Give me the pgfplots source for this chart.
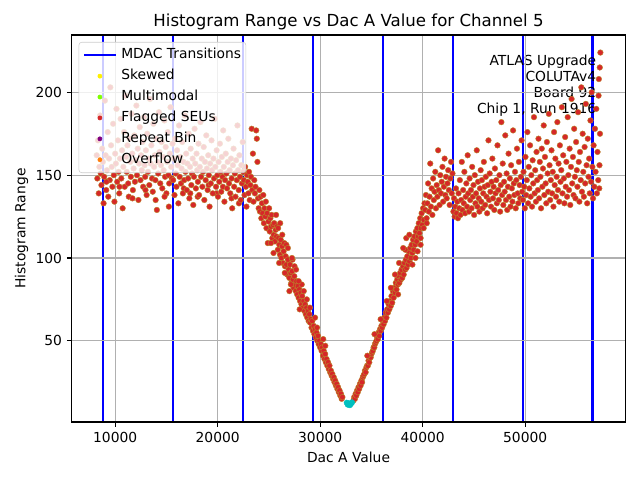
\documentclass[border=0pt]{standalone}
\usepackage{pgfplots}
\pgfplotsset{compat=1.18}
\usepackage{fontspec}
\setmainfont{DejaVu Sans}
\definecolor{tabred}{RGB}{214,39,40}
\definecolor{edgec}{RGB}{185,135,40}
\definecolor{tealc}{RGB}{0,191,191}
\definecolor{gridc}{RGB}{176,176,176}
\definecolor{legedge}{RGB}{204,204,204}
\definecolor{skewc}{RGB}{255,240,0}
\definecolor{multic}{RGB}{127,255,0}
\definecolor{repc}{RGB}{128,0,128}
\definecolor{ovc}{RGB}{255,127,14}
\begin{document}
\begin{tikzpicture}
\path[use as bounding box] (-0.717in,-0.58in) rectangle (5.683in,4.22in);
\begin{axis}[
  at={(0,0)}, anchor=south west,
  scale only axis, width=5.536in, height=3.87in,
  xmin=5760, xmax=59770, ymin=1, ymax=234.6,
  xtick={10000,20000,30000,40000,50000},
  ytick={50,100,150,200},
  scaled x ticks=false, scaled y ticks=false,
  /pgf/number format/assume math mode=true,
  /pgf/number format/set thousands separator={},
  tick label style={font=\fontsize{10}{12}\selectfont},
  tick align=outside, tick pos=left,
  major tick length=3.5pt,
  every tick/.style={black, line width=0.8pt},
  axis line style={line width=0.8pt},
  grid=major, major grid style={gridc, line width=0.8pt},
  axis on top,
  title={Histogram Range vs Dac A Value for Channel 5},
  title style={font=\fontsize{12}{14}\selectfont, yshift=-6pt},
  xlabel={Dac A Value}, ylabel={Histogram Range},
  label style={font=\fontsize{10}{12}\selectfont},
  ylabel style={xshift=0pt, yshift=-1.5pt},
  legend cell align=left,
  legend style={at={(0.0126,0.982)}, anchor=north west, fill=white, fill opacity=0.8, draw opacity=1, text opacity=1, draw=legedge, rounded corners=2pt, font=\fontsize{10}{12}\selectfont, inner xsep=3pt, inner ysep=4pt, row sep=4.3pt, nodes={inner sep=0.5pt, text height=7.6pt, text depth=2.2pt}},
  legend image code/.code={\draw[#1] (0cm,0cm) -- (0.8cm,0cm); \path (0.9cm,0cm);},
]
\addlegendimage{blue, line width=1.5pt}
\addlegendentry{MDAC Transitions}
\addlegendimage{legend image code/.code={\fill[skewc, fill opacity=1] (0.4cm,0cm) circle (1.5pt); \path (0cm,0cm) (0.9cm,0cm);}}
\addlegendentry{Skewed}
\addlegendimage{legend image code/.code={\fill[multic, fill opacity=1] (0.4cm,0cm) circle (1.5pt); \path (0cm,0cm) (0.9cm,0cm);}}
\addlegendentry{Multimodal}
\addlegendimage{legend image code/.code={\fill[tabred, fill opacity=1] (0.4cm,0cm) circle (1.5pt); \path (0cm,0cm) (0.9cm,0cm);}}
\addlegendentry{Flagged SEUs}
\addlegendimage{legend image code/.code={\fill[repc, fill opacity=1] (0.4cm,0cm) circle (1.5pt); \path (0cm,0cm) (0.9cm,0cm);}}
\addlegendentry{Repeat Bin}
\addlegendimage{legend image code/.code={\fill[ovc, fill opacity=1] (0.4cm,0cm) circle (1.5pt); \path (0cm,0cm) (0.9cm,0cm);}}
\addlegendentry{Overflow}

\addplot[forget plot, only marks, mark=*, mark size=2.05pt, mark options={fill=tabred, draw=edgec, line width=0.3pt}] coordinates {
(8200,162)(8260,148)(8330,171)(8400,139)(8460,155)(8530,186)(8600,151)(8660,144)(8730,166)(8800,158)(8870,133)(8930,149)(9000,195)(9070,162)(9130,141)(9200,153)(9270,176)(9330,137)(9400,160)(9470,147)(9530,203)(9600,168)(9670,155)(9730,143)(9800,181)(9870,150)(9930,134)(10000,163)(10070,157)(10130,190)(10200,146)(10270,171)(10330,152)(10400,139)(10470,160)(10530,184)(10600,148)(10670,165)(10730,130)(10800,155)(10870,176)(10930,143)(11000,198)(11070,161)(11130,152)(11200,168)(11270,145)(11330,137)(11400,172)(11470,158)(11530,149)(11600,187)(11670,163)(11730,141)(11800,154)(11870,174)(11930,146)(12000,159)(12070,192)(12130,150)(12200,166)(12270,135)(12330,157)(12400,179)(12470,147)(12530,162)(12600,153)(12670,170)(12730,143)(12800,185)(12870,156)(12930,149)(13000,165)(13070,138)(13130,175)(13200,152)(13270,160)(13330,144)(13400,196)(13470,157)(13530,168)(13600,148)(13670,140)(13730,181)(13800,155)(13870,162)(13930,147)(14000,172)(14070,129)(14130,158)(14200,151)(14270,188)(14330,164)(14400,145)(14470,156)(14530,170)(14600,142)(14670,161)(14730,153)(14800,183)(14870,149)(14930,167)(15000,139)(15070,158)(15130,176)(15200,150)(15270,145)(15330,163)(15400,191)(15470,155)(15530,148)(15600,169)
(9150,146)(10420,143)(11690,136)(12960,141)(13950,135)(14820,137)(15240,131)(16700,142)(17330,139)(18050,137)(19120,144)(19860,139)(20510,143)(21350,136)(22080,133)
(15660,147)(15720,160)(15790,138)(15850,172)(15910,151)(15980,143)(16040,165)(16100,156)(16170,133)(16230,180)(16290,149)(16360,161)(16420,145)(16480,154)(16550,170)(16610,139)(16670,158)(16740,147)(16800,186)(16860,152)(16930,163)(16990,141)(17050,157)(17120,148)(17180,175)(17240,136)(17310,155)(17370,166)(17430,144)(17500,151)(17560,160)(17620,132)(17690,149)(17750,178)(17810,157)(17880,142)(17940,163)(18000,153)(18070,146)(18130,169)(18190,138)(18260,155)(18320,182)(18380,149)(18450,160)(18510,143)(18570,152)(18640,167)(18700,135)(18760,158)(18830,147)(18890,174)(18950,154)(19020,141)(19080,162)(19140,150)(19210,131)(19270,157)(19330,145)(19400,171)(19460,153)(19520,139)(19590,160)(19650,148)(19710,184)(19780,155)(19840,143)(19900,165)(19970,150)(20030,137)(20090,158)(20160,146)(20220,169)(20280,152)(20350,140)(20410,161)(20470,149)(20540,177)(20600,155)(20660,134)(20730,147)(20790,163)(20850,151)(20920,142)(20980,158)(21040,172)(21110,145)(21170,153)(21230,139)(21300,160)(21360,148)(21420,130)(21490,156)(21550,166)(21610,143)(21680,151)(21740,137)(21800,159)(21870,147)(21930,180)(21990,153)(22060,141)(22120,162)(22180,149)(22250,135)(22310,156)(22370,145)(22440,170)(22500,152)
(22560,147)(22620,138)(22680,155)(22750,143)(22810,131)(22870,150)(22940,146)(23000,139)(23060,152)(23130,135)(23190,144)(23250,149)(23320,178)(23380,141)(23440,163)(23500,134)(23570,147)(23630,139)(23690,143)(23760,177)(23820,172)(23880,158)(23940,136)(24000,130)(24070,141)(24130,128)(24190,137)(24260,124)(24320,133)(24380,127)(24450,138)(24510,121)(24570,130)(24640,125)(24700,134)(24760,118)(24830,127)(24890,109)(24950,122)(25020,130)(25080,116)(25140,124)(25210,119)(25270,126)(25330,112)(25400,120)(25460,114)
(25520,121)(25590,110)(25660,117)(25730,113)(25800,119)(25870,105)(25940,112)(26010,108)(26080,102)(26150,111)(26220,100)(26290,107)(26360,97)(26430,104)(26500,109)(26570,95)(26640,101)(26710,96)(26780,90)(26850,99)(26920,93)(26990,88)(27060,96)(27130,91)(27200,85)(27270,92)(27340,87)(27410,82)(27480,89)(27550,84)(27620,80)(27690,86)(27760,78)(27830,83)(27900,76)(27970,81)(28040,74)(28110,79)(28180,72)(28250,77)(28320,70)(28390,74)(28460,68)(28530,72)(28600,66)(28670,70)(28740,64)(28810,68)(28880,62)(28950,66)(29020,61)(29090,63)(29160,58)(29230,62)(29300,56)(29370,59)(29440,54)(29510,57)(29580,52)(29650,55)(29720,50)(29790,53)(29860,48)(29930,50)(30000,46)(30070,48)(30140,44)(30210,46)(30280,41)(30350,44)(30420,39)(30490,42)(30560,37)(30630,39)(30700,35)(30770,37)(30840,33)(30910,35)(30980,31)(31050,32)(31120,29)(31190,30)(31260,27)(31330,28)(31400,25)(31470,26)(31540,23)(31610,24)(31680,21)(31750,22)(31820,19)(31890,20)(31960,17)(32030,18)(32100,15)(32170,16)
(26100,121)(26700,108)(27000,80)(27500,95)(28200,84)(28700,75)(29500,64)(30300,51)(25200,109)(27300,99)(28000,69)
(25700,126)(25900,118)(26300,114)(26850,106)(27250,100)(27650,93)(25450,103)(26000,97)(26550,91)(27150,84)(27900,86)(28400,80)(29000,70)(29700,58)(30500,47)
(33250,14)(33320,16)(33390,15)(33460,18)(33530,17)(33600,20)(33670,19)(33740,22)(33810,21)(33880,24)(33950,23)(34020,26)(34090,25)(34160,28)(34230,29)(34300,30)(34370,32)(34440,31)(34510,34)(34580,35)(34650,35)(34720,38)(34790,37)(34860,40)(34930,40)(35000,42)(35070,43)(35140,44)(35210,46)(35280,46)(35350,48)(35420,49)(35490,50)(35560,52)(35630,51)(35700,55)(35770,53)(35840,57)(35910,56)(35980,59)(36050,58)(36120,62)(36190,60)(36260,64)(36330,62)(36400,67)(36470,64)(36540,69)(36610,67)(36680,72)(36750,69)(36820,74)(36890,71)(36960,77)(37030,73)(37100,80)(37170,76)(37240,82)(37310,79)(37380,85)(37450,81)(37520,87)(37590,84)(37660,89)(37730,85)(37800,91)(37870,87)(37940,93)(38010,88)(38080,95)(38150,90)(38220,97)(38290,93)(38360,99)(38430,94)(38500,101)(38570,96)(38640,104)(38710,98)(38780,106)(38850,100)(38920,108)(38990,103)(39060,111)(39130,105)(39200,113)(39270,108)(39340,116)(39410,110)(39480,118)(39550,113)(39620,121)(39690,115)(39760,124)(39830,118)(39900,127)(39970,120)(40040,130)(40110,123)(40180,133)
(39800,112)(40100,118)(40400,121)(38300,105)(37600,78)(36900,82)(39000,96)
(38100,106)(38400,112)(39500,104)(39800,108)(38700,114)(37700,97)(37300,90)(39300,100)(36500,74)(35900,63)(35300,54)(34600,41)
(40250,129)(40320,138)(40390,124)(40460,133)(40530,145)(40600,128)(40670,137)(40740,157)(40810,131)(40880,142)(40950,126)(41020,148)(41090,135)(41160,140)(41230,152)(41300,130)(41370,144)(41440,137)(41510,165)(41580,141)(41650,132)(41720,150)(41790,139)(41860,146)(41930,155)(42000,134)(42070,143)(42140,160)(42210,138)(42280,149)(42350,136)(42420,145)(42490,153)(42560,141)(42630,132)(42700,148)(42770,158)(42840,139)(42910,151)
(43000,128)(43060,136)(43120,125)(43190,131)(43250,142)(43310,127)(43380,134)(43440,124)(43500,139)(43570,130)(43630,147)(43690,126)(43760,135)(43820,158)(43880,129)(43950,141)(44010,133)(44070,152)(44140,127)(44200,137)(44260,145)(44330,131)(44390,162)(44450,139)(44520,128)(44580,148)(44640,135)(44710,141)(44770,130)(44830,155)(44900,137)(44960,144)(45020,126)(45090,150)(45150,133)(45210,139)(45280,165)(45340,131)(45400,146)(45470,136)(45530,128)(45590,142)(45660,153)(45720,134)(45780,147)(45850,130)(45910,139)(45970,158)(46040,143)(46100,132)(46160,149)(46230,137)(46290,127)(46350,144)(46420,171)(46480,135)(46540,151)(46610,140)(46670,131)(46730,146)(46800,160)(46860,136)(46920,143)(46990,129)(47050,154)(47110,139)(47180,147)(47240,133)(47300,168)(47370,141)(47430,135)(47490,150)(47560,128)(47620,144)(47680,182)(47750,138)(47810,157)(47870,132)(47940,146)(48000,140)(48060,174)(48130,135)(48190,151)(48250,129)(48320,143)(48380,163)(48440,137)(48510,148)(48570,131)(48630,156)(48700,142)(48760,134)(48820,177)(48890,145)(48950,138)(49010,152)(49080,130)(49140,147)(49200,166)(49270,139)(49330,133)(49390,158)(49460,144)(49520,136)(49580,149)(49650,171)(49710,140)
(49780,135)(49840,152)(49910,143)(49970,130)(50030,161)(50100,138)(50160,147)(50220,176)(50290,133)(50350,155)(50410,142)(50480,168)(50540,137)(50600,150)(50670,131)(50730,159)(50790,145)(50860,185)(50920,139)(50980,153)(51050,134)(51110,164)(51170,147)(51240,141)(51300,172)(51360,136)(51430,158)(51490,149)(51550,130)(51620,166)(51680,143)(51740,154)(51810,180)(51870,138)(51930,161)(52000,145)(52060,133)(52120,170)(52190,151)(52250,140)(52310,187)(52380,156)(52440,135)(52500,147)(52570,165)(52630,139)(52690,152)(52760,131)(52820,176)(52880,144)(52950,160)(53010,137)(53070,149)(53140,182)(53200,141)(53260,157)(53330,134)(53390,168)(53450,146)(53520,153)(53580,191)(53640,139)(53710,162)(53770,148)(53830,133)(53900,173)(53960,143)(54020,158)(54090,137)(54150,185)(54210,150)(54280,141)(54340,166)(54400,132)(54470,155)(54530,196)(54590,145)(54660,161)(54720,138)(54780,178)(54850,149)(54910,136)(54970,170)(55040,153)(55100,143)(55160,188)(55230,158)(55290,134)(55350,164)(55420,147)(55480,203)(55540,140)(55610,175)(55670,152)(55730,137)(55800,167)(55860,145)(55920,193)(55990,156)(56050,133)(56110,172)(56180,149)(56240,160)(56300,139)(56370,183)(56430,146)(56490,200)(56560,155)(56620,136)(56680,168)(56750,143)(56810,178)(56870,152)(56940,190)(57000,139)(57060,164)(57130,147)(57190,208)(57250,156)(57300,175)(57340,224)(57280,215)(57230,142)(57160,198)
};
\addplot[forget plot, only marks, mark=*, mark size=2.05pt, mark options={fill=tealc, draw=tealc, line width=0.3pt}] coordinates {
(32600,12.6)(32700,11.5)(32800,12.2)(32900,11.2)(33000,12.0)(33100,12.8)
};
\addplot[forget plot, blue, line width=1.5pt] coordinates {(8800,1)(8800,234.6)};
\addplot[forget plot, blue, line width=1.5pt] coordinates {(15624,1)(15624,234.6)};
\addplot[forget plot, blue, line width=1.5pt] coordinates {(22448,1)(22448,234.6)};
\addplot[forget plot, blue, line width=1.5pt] coordinates {(29272,1)(29272,234.6)};
\addplot[forget plot, blue, line width=1.5pt] coordinates {(36096,1)(36096,234.6)};
\addplot[forget plot, blue, line width=1.5pt] coordinates {(42920,1)(42920,234.6)};
\addplot[forget plot, blue, line width=1.5pt] coordinates {(49744,1)(49744,234.6)};
\addplot[forget plot, blue, line width=1.5pt] coordinates {(56568,1)(56568,234.6)};
\node[anchor=north east, align=right, inner sep=0pt, font=\fontsize{10}{11.6}\selectfont] at (rel axis cs:0.948,0.95) {ATLAS Upgrade\\COLUTAv4\\Board 92\\Chip 1, Run 1916};
\end{axis}
\end{tikzpicture}
\end{document}
